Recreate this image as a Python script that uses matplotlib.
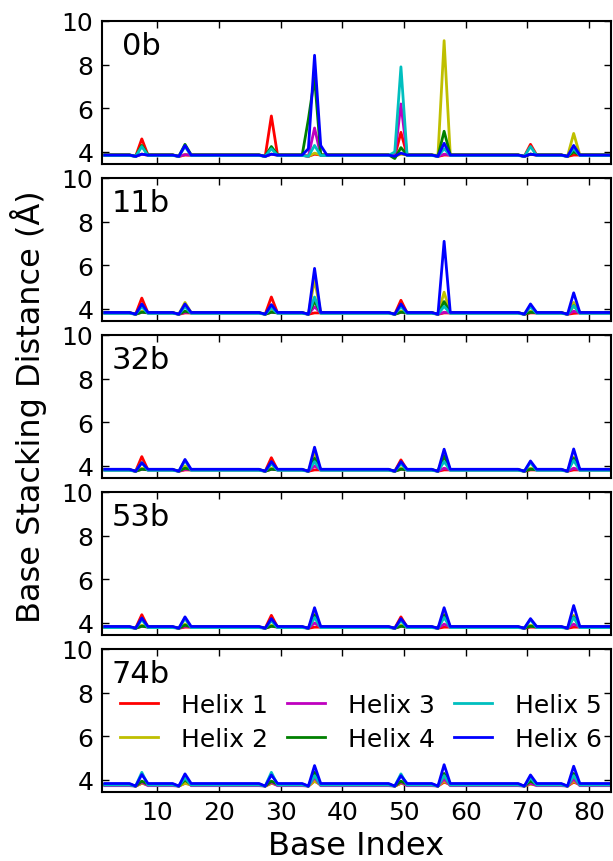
import numpy as np
import matplotlib
matplotlib.use("Agg")
import matplotlib.pyplot as plt

# ---------------- data ----------------
base_index = np.arange(1.5, 84.0, 1.0)          # 83 stacking steps
peak_x = [7.5, 14.5, 28.5, 35.5, 49.5, 56.5, 70.5, 77.5]
panels = ["0b", "11b", "32b", "53b", "74b"]
helix_labels = ["Helix 1", "Helix 2", "Helix 3", "Helix 4", "Helix 5", "Helix 6"]
helix_colors = ["r", "y", "m", "g", "c", "b"]

# baseline per panel / helix
baselines = {
    "0b":  [3.86, 3.86, 3.85, 3.87, 3.84, 3.86],
    "11b": [3.82, 3.83, 3.82, 3.83, 3.80, 3.84],
    "32b": [3.82, 3.83, 3.82, 3.83, 3.80, 3.85],
    "53b": [3.81, 3.82, 3.81, 3.82, 3.79, 3.84],
    "74b": [3.80, 3.77, 3.74, 3.80, 3.77, 3.84],
}
# value just before each peak (small dip)
dips = {"0b": 3.80, "11b": 3.76, "32b": 3.76, "53b": 3.76, "74b": 3.72}

# values at peak_x for each helix
peaks = {
    "0b": [
        [4.60, 3.86, 5.65, 3.90, 4.90, 3.86, 4.35, 3.86],
        [3.90, 3.88, 3.90, 3.95, 3.90, 9.10, 3.90, 4.85],
        [3.90, 3.88, 3.90, 5.10, 6.20, 3.90, 3.90, 4.15],
        [4.30, 4.35, 4.25, 7.40, 4.20, 4.95, 3.90, 4.00],
        [4.25, 4.25, 4.15, 4.30, 7.90, 4.15, 4.25, 4.15],
        [3.90, 4.30, 3.90, 8.43, 3.95, 4.40, 3.90, 4.30],
    ],
    "11b": [
        [4.50, 3.82, 4.55, 3.82, 4.40, 3.82, 3.82, 3.80],
        [3.90, 4.30, 3.90, 5.35, 3.90, 4.77, 3.90, 4.30],
        [3.85, 3.85, 3.85, 4.10, 3.85, 3.85, 3.85, 3.90],
        [3.85, 3.90, 3.85, 4.35, 3.85, 4.34, 3.85, 4.15],
        [4.10, 4.10, 4.05, 4.55, 4.10, 4.12, 4.10, 4.15],
        [4.23, 4.23, 4.20, 5.86, 4.23, 7.10, 4.23, 4.74],
    ],
    "32b": [
        [4.43, 3.82, 4.38, 3.82, 4.28, 3.82, 3.82, 3.82],
        [3.90, 4.00, 3.90, 4.58, 3.90, 4.50, 3.90, 4.40],
        [3.85, 3.85, 3.85, 4.00, 3.85, 3.90, 3.85, 3.90],
        [3.85, 3.90, 3.85, 4.35, 3.85, 4.45, 3.85, 4.35],
        [4.15, 4.25, 4.10, 4.20, 4.10, 4.20, 4.15, 4.25],
        [4.15, 4.30, 4.20, 4.86, 4.20, 4.77, 4.23, 4.78],
    ],
    "53b": [
        [4.38, 3.81, 4.35, 3.81, 4.28, 3.81, 3.81, 3.81],
        [3.90, 3.95, 3.90, 4.40, 3.90, 4.40, 3.90, 4.35],
        [3.85, 3.85, 3.85, 4.00, 3.85, 3.95, 3.85, 3.95],
        [3.85, 3.90, 3.85, 4.35, 3.85, 4.35, 3.85, 4.28],
        [4.15, 4.20, 4.10, 4.25, 4.10, 4.25, 4.15, 4.25],
        [4.23, 4.28, 4.20, 4.70, 4.20, 4.70, 4.20, 4.80],
    ],
    "74b": [
        [3.85, 3.85, 3.85, 3.95, 3.85, 3.90, 3.85, 3.90],
        [3.85, 3.85, 3.85, 3.95, 3.85, 3.95, 3.80, 3.95],
        [3.90, 4.12, 3.90, 4.12, 3.90, 4.05, 3.85, 4.05],
        [3.95, 4.00, 3.95, 4.35, 3.95, 4.30, 3.95, 4.30],
        [4.35, 4.10, 4.35, 4.20, 4.28, 4.20, 4.10, 4.20],
        [4.25, 4.28, 4.23, 4.66, 4.20, 4.70, 4.23, 4.63],
    ],
}
# a few extra points read around the big 0b peaks: (helix index, x, value)
extra_0b = [(3, 34.5, 5.5), (5, 34.5, 4.15), (5, 36.5, 4.3),
            (4, 48.5, 4.0), (3, 48.5, 3.7), (1, 55.5, 3.85)]

# ---------------- figure ----------------
W, H = 613, 862
fig = plt.figure(figsize=(W / 100, H / 100), dpi=100)
left, right = 101.7 / W, 610.7 / W
top_px, ph, gap = 22.0, 143.0, 14.0

axes = []
for k, name in enumerate(panels):
    y0 = top_px + k * (ph + gap)
    ax = fig.add_axes([left, 1 - (y0 + ph) / H, right - left, ph / H])
    axes.append(ax)
    for h in range(6):
        y = np.full(base_index.shape, baselines[name][h])
        for j, px in enumerate(peak_x):
            i = int(np.argmin(np.abs(base_index - px)))
            y[i - 1] = dips[name]
            y[i] = peaks[name][h][j]
        if name == "0b":
            for hh, xx, vv in extra_0b:
                if hh == h:
                    y[int(np.argmin(np.abs(base_index - xx)))] = vv
        ax.plot(base_index, y, color=helix_colors[h], lw=2.0,
                label=helix_labels[h])
    ax.set_xlim(1, 83.5)
    ax.set_ylim(3.45, 10)
    ax.set_yticks([4, 6, 8, 10])
    ax.set_xticks(range(10, 81, 10))
    ax.tick_params(direction="in", top=True, right=True, length=5, width=1,
                   labelsize=18, pad=6)
    for s in ax.spines.values():
        s.set_linewidth(1.5)
    if k < len(panels) - 1:
        ax.tick_params(labelbottom=False)
    ax.text(0.077, 0.83, name, transform=ax.transAxes, ha="center",
            va="center", fontsize=22)

axes[-1].set_xlabel("Base Index", fontsize=23, labelpad=4)
axes[-1].legend(loc="center", bbox_to_anchor=(0.51, 0.49), ncol=3,
                frameon=False, fontsize=18, handlelength=1.5,
                handletextpad=0.95, columnspacing=0.75, labelspacing=0.4)
fig.text(0.046, 1 - 407 / H, "Base Stacking Distance (Å)", rotation=90,
         ha="center", va="center", fontsize=23)

fig.savefig("out.png", dpi=100)
